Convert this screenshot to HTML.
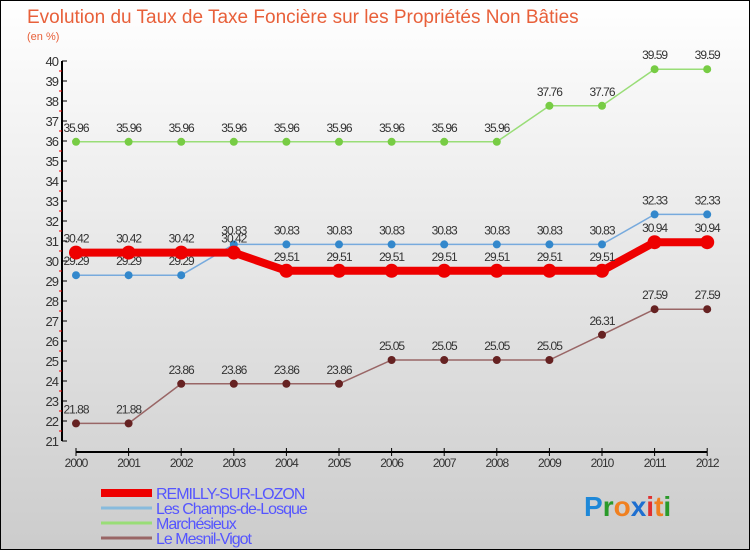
<!DOCTYPE html>
<html><head><meta charset="utf-8"><style>
body{margin:0;}
#c{position:relative;width:750px;height:550px;box-sizing:border-box;border:1px solid #000;background:linear-gradient(#fff,#ccc);font-family:"Liberation Sans","DejaVu Sans",sans-serif;overflow:hidden}
svg{position:absolute;left:0;top:0}
</style></head><body>
<div id="c">
<svg id="s" width="750" height="550"></svg>
</div>
<script>
const years=["2000","2001","2002","2003","2004","2005","2006","2007","2008","2009","2010","2011","2012"];
const remilly=[30.42,30.42,30.42,30.42,29.51,29.51,29.51,29.51,29.51,29.51,29.51,30.94,30.94];
const champs=[29.29,29.29,29.29,30.83,30.83,30.83,30.83,30.83,30.83,30.83,30.83,32.33,32.33];
const marche=[35.96,35.96,35.96,35.96,35.96,35.96,35.96,35.96,35.96,37.76,37.76,39.59,39.59];
const mesnil=[21.88,21.88,23.86,23.86,23.86,23.86,25.05,25.05,25.05,25.05,26.31,27.59,27.59];
const yTicks=[21,22,23,24,25,26,27,28,29,30,31,32,33,34,35,36,37,38,39,40];
const seriesNames=["REMILLY-SUR-LOZON","Les Champs-de-Losque","Marchésieux","Le Mesnil-Vigot"];
const s=document.getElementById('s');const NS='http://www.w3.org/2000/svg';
function X(i){return 75+i*52.6;}
function Y(v){return 60+(40-v)*20;}
function el(t,a,p){const e=document.createElementNS(NS,t);for(const k in a)e.setAttribute(k,a[k]);(p||s).appendChild(e);return e;}
let t=el('text',{x:26,y:22,fill:'#e8603a','font-size':19});t.textContent='Evolution du Taux de Taxe Foncière sur les Propriétés Non Bâties';

t=el('text',{x:26,y:39,fill:'#e8603a','font-size':11});t.textContent='(en %)';

let ya=el('line',{x1:61,y1:60,x2:61,y2:440,stroke:'#000','stroke-width':2});

yTicks.forEach(v=>{el('line',{x1:61,y1:Y(v),x2:66,y2:Y(v),stroke:'#000'});
 if(v<40)el('line',{x1:58,y1:Y(v+0.5),x2:61,y2:Y(v+0.5),stroke:'#e00'});
 const l=el('text',{x:57,y:Y(v)+5,'text-anchor':'end','font-size':13,fill:'#333','letter-spacing':'-1'});l.textContent=v;
 });
let xa=el('line',{x1:X(0),y1:451,x2:X(12),y2:451,stroke:'#000','stroke-width':2});

years.forEach((y,i)=>{el('line',{x1:X(i),y1:447,x2:X(i),y2:455,stroke:'#000'});
 const l=el('text',{x:X(i),y:466,'text-anchor':'middle','font-size':12,fill:'#333','letter-spacing':'-1'});l.textContent=y;
 });
function series(d,col,w,r,name,fill){
 const g=el('g',{});
 el('polyline',{points:d.map((v,i)=>X(i)+','+Y(v)).join(' '),fill:'none',stroke:col,'stroke-width':w},g);
 d.forEach((v,i)=>{const c=el('circle',{cx:X(i),cy:Y(v),r:r,fill:fill},g);
  
  const l=el('text',{x:X(i),y:Y(v)-10,'text-anchor':'middle','font-size':12,fill:'#333','letter-spacing':'-1'},g);l.textContent=v;});
}
series(marche,'#99dd77',1.5,4,'series-marchesieux','#77cc44');
series(mesnil,'#996666',1.5,4,'series-le-mesnil-vigot','#662222');
series(champs,'#77aadd',1.5,4,'series-les-champs-de-losque','#3388cc');
series(remilly,'#ee0000',8,7,'series-remilly-sur-lozon','#ee0000');
const lc=['#ee0000','#88bbdd','#99dd77','#996666'],lw=[8,3,3,3];
seriesNames.forEach((n,i)=>{const g=el('g',{});
 const y=492+i*15;el('line',{x1:100,y1:y,x2:151,y2:y,stroke:lc[i],'stroke-width':lw[i]},g);
 const l=el('text',{x:155,y:y+6,'font-size':16,fill:'#5555ff','letter-spacing':'-1'},g);l.textContent=n;});
const lg=el('text',{x:583,y:515,'font-size':28,'font-weight':'bold'});
[['P','#1e88d8'],['r','#2a9a2a'],['o','#f08020'],['x','#1e6fd0'],['i','#e03030'],['t','#f08020'],['i','#2a9a2a']].forEach(([c,f])=>{const sp=el('tspan',{fill:f},lg);sp.textContent=c;});
</script>
</body></html>
